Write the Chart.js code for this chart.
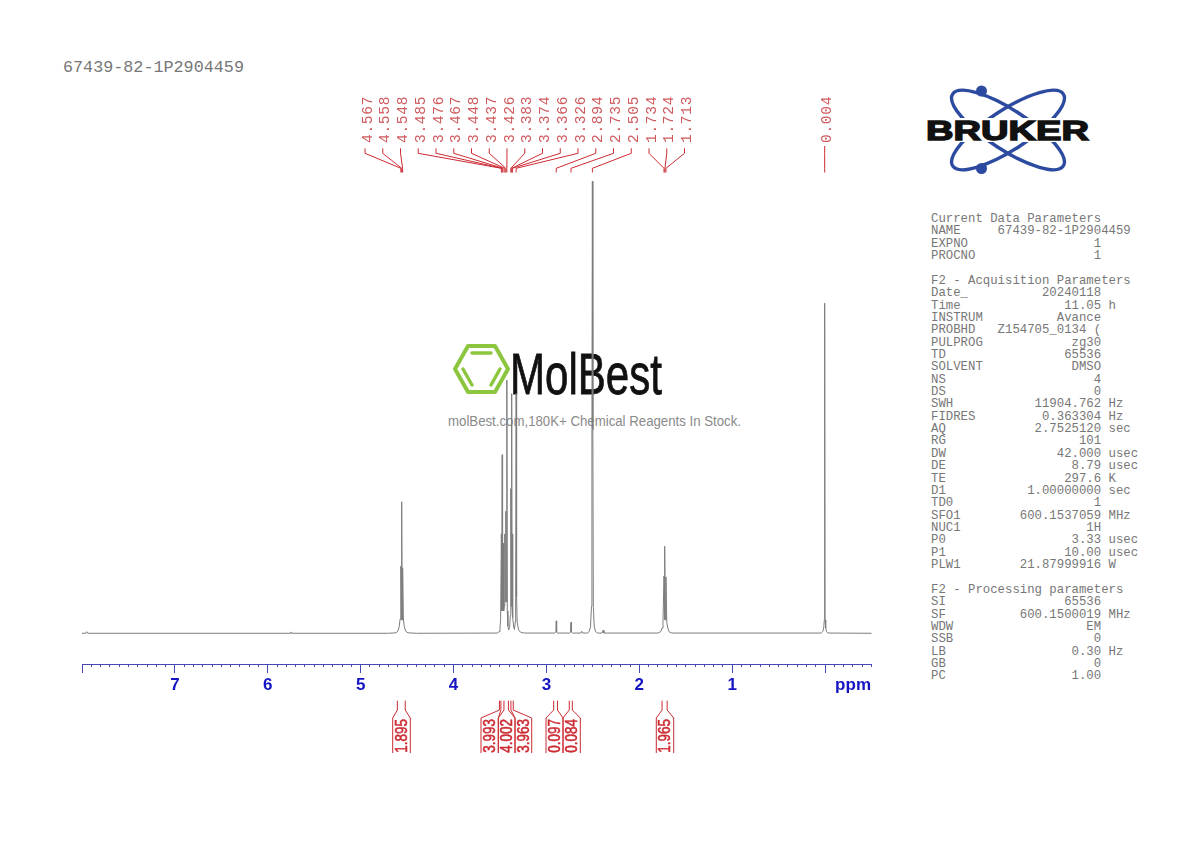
<!DOCTYPE html>
<html>
<head>
<meta charset="utf-8">
<script src="https://cdn.jsdelivr.net/npm/chart.js@4/dist/chart.umd.min.js"></script>
<style>
html,body{margin:0;padding:0;background:#fff;width:1190px;height:842px;overflow:hidden}
#stage{position:relative;width:1190px;height:842px}
#stage>*{position:absolute}
#chart{left:0;top:0;width:1190px;height:842px;z-index:3}
#sample{left:63px;top:58px;font:16.75px/20px "Liberation Mono",monospace;color:#777;white-space:pre}
#params{left:931px;top:213px;margin:0;font:12.33px/12.36px "Liberation Mono",monospace;color:#777;white-space:pre}
#logos{left:0;top:0;z-index:1}
</style>
</head>
<body>
<div id="stage">
<svg id="logos" width="1190" height="842" viewBox="0 0 1190 842">
  <g fill="none" stroke="#2c4a9f" stroke-width="3.4">
    <ellipse cx="1008" cy="130" rx="66" ry="20" transform="rotate(33 1008 130)"/>
    <ellipse cx="1008" cy="130" rx="66" ry="20" transform="rotate(-33 1008 130)"/>
  </g>
  <circle cx="981.5" cy="91" r="5.5" fill="#2c4a9f"/>
  <circle cx="981.5" cy="168.5" r="5.5" fill="#2c4a9f"/>
  <rect x="922" y="118" width="172" height="24" fill="#fff"/>
  <text x="926" y="139.5" font-family="Liberation Sans" font-weight="700" font-size="27" textLength="163" lengthAdjust="spacingAndGlyphs" fill="#111" stroke="#111" stroke-width="1.4">BRUKER</text>
  <g fill="none" stroke="#8cc63f" stroke-linecap="round" stroke-linejoin="round">
    <path d="M455 369 L468 346 L495 346 L508 369 L495 392 L468 392 Z" stroke-width="4"/>
    <path d="M472 353 L491 353 M463 369 L472 385 M500 369 L491 385" stroke-width="3.4"/>
  </g>
  <text x="510" y="394" font-family="Liberation Sans" font-size="58" textLength="152" lengthAdjust="spacingAndGlyphs" fill="#111" stroke="#111" stroke-width="0.8">MolBest</text>
  <text x="448" y="426" font-family="Liberation Sans" font-size="14" textLength="293" lengthAdjust="spacingAndGlyphs" fill="#8a8a8a">molBest.com,180K+ Chemical Reagents In Stock.</text>
</svg>
<div id="sample"></div>
<pre id="params"></pre>
<canvas id="chart" width="1190" height="842"></canvas>
</div>
<script>
const sampleName = "67439-82-1P2904459";

// Spectrum trace: chemical shift (ppm) and intensity (DMSO = 100)
const specPpm = [8.00,7.96,7.95,7.94,5.76,5.75,5.74,
 4.70,4.62,4.60,4.585,4.575,4.567,4.5625,4.558,4.553,4.548,4.54,4.53,4.515,4.49,4.40,
 3.53,3.51,3.50,3.493,3.485,3.481,3.476,3.472,3.467,3.46,3.454,3.448,3.443,3.437,3.432,3.426,3.421,3.415,3.405,3.395,3.389,3.383,3.379,3.374,3.37,3.366,3.36,3.352,3.344,3.336,3.331,3.326,3.321,3.315,3.30,3.28,3.24,
 2.91,2.898,2.894,2.89,2.878,2.75,2.739,2.735,2.731,2.72,2.63,2.62,2.61,
 2.56,2.54,2.525,2.515,2.51,2.505,2.50,2.495,2.485,2.47,2.45,2.40,2.39,2.38,
 1.80,1.77,1.755,1.745,1.734,1.729,1.724,1.719,1.713,1.704,1.693,1.68,1.65,
 0.04,0.025,0.015,0.008,0.004,0.0,-0.007,-0.017,-0.03,-0.5];
const specInt = [0.05,0.05,0.4,0.05,0.05,0.35,0.05,
 0.05,0.15,0.5,1.5,3.2,14.9,3,29.1,3,14.5,3.2,1.5,0.5,0.15,0.05,
 0.1,0.4,1.2,3,22,5,39.5,5,20,5,6,22,7,27,7,56,5,1.6,0.8,1.6,4,32,6,53,6,22,3.5,1.4,0.9,2.5,8,53,8,2.5,0.8,0.3,0.1,
 0.1,0.3,2.8,0.3,0.1,0.1,0.3,2.5,0.3,0.1,0.1,0.5,0.1,
 0.1,0.4,1.5,6,45,100,45,6,1.5,0.4,0.1,0.1,0.7,0.1,
 0.1,0.4,1.2,2.5,12.7,3,19.3,3,12.5,2.5,1.2,0.4,0.1,
 0.1,0.4,1.2,3,73,3,1.2,0.4,0.1,0.05];

// Peak picks printed above the spectrum
const peakPicks = [4.567,4.558,4.548,3.485,3.476,3.467,3.448,3.437,3.426,3.383,3.374,3.366,3.326,2.894,2.735,2.505,1.734,1.724,1.713,0.004];

// Integrals printed below the axis
const integralValues = ["1.895","3.993","4.002","3.963","0.097","0.084","1.965"];
const integralFrom   = [4.605,3.506,3.457,3.382,2.922,2.754,1.755];
const integralTo     = [4.520,3.490,3.409,3.357,2.881,2.721,1.700];

const axisMajorStep = 1, axisMinorStep = 0.1, axisMin = -0.5, axisMax = 8;
const axisUnit = "ppm";

// Acquisition / processing table
const paramKeys1 = ["EXPNO","PROCNO"];
const paramVals1 = ["1","1"];
const acqKeys = ["Date_","Time","INSTRUM","PROBHD","PULPROG","TD","SOLVENT","NS","DS","SWH","FIDRES","AQ","RG","DW","DE","TE","D1","TD0","SFO1","NUC1","P0","P1","PLW1"];
const acqVals = ["20240118","11.05","Avance","Z154705_0134 (","zg30","65536","DMSO","4","0","11904.762","0.363304","2.7525120","101","42.000","8.79","297.6","1.00000000","1","600.1537059","1H","3.33","10.00","21.87999916"];
const acqUnits = ["","h","","","","","","","","Hz","Hz","sec","","usec","usec","K","sec","","MHz","","usec","usec","W"];
const procKeys = ["SI","SF","WDW","SSB","LB","GB","PC"];
const procVals = ["65536","600.1500019","EM","0","0.30","0","1.00"];
const procUnits = ["","MHz","","","Hz","",""];

function row(k,v,u){ return k.padEnd(23-v.length)+v+(u?" "+u:""); }
document.getElementById("sample").textContent = sampleName;
document.getElementById("params").textContent = [
  "Current Data Parameters",
  "NAME".padEnd(9)+sampleName,
  ...paramKeys1.map((k,i)=>row(k,paramVals1[i],"")),
  "",
  "F2 - Acquisition Parameters",
  ...acqKeys.map((k,i)=>row(k,acqVals[i],acqUnits[i])),
  "",
  "F2 - Processing parameters",
  ...procKeys.map((k,i)=>row(k,procVals[i],procUnits[i]))
].join("\n");

const RED = "#cc2b33", LABEL_RED = "#cf5a5e", BLUE = "#1414c4", AXIS_BLUE = "#4848b4";

const annotations = {
  id: "annotations",
  afterDraw(chart){
    const {ctx, scales:{x}} = chart;
    ctx.save();
    // peak picks
    ctx.strokeStyle = RED; ctx.lineWidth = 1;
    peakPicks.forEach((p,i)=>{
      const px = x.getPixelForValue(p);
      const last = i === peakPicks.length-1;
      const cx = last ? px : 365 + i*17.75;
      ctx.beginPath();
      ctx.moveTo(cx, last ? 146 : 148.3);
      ctx.lineTo(cx, 153.3);
      ctx.lineTo(px, 168.3);
      ctx.lineTo(px, 172.5);
      ctx.stroke();
      ctx.save();
      ctx.translate(cx+2.8, 143);
      ctx.rotate(-Math.PI/2);
      ctx.font = '14.6px "Liberation Mono", monospace';
      ctx.letterSpacing = "0.65px";
      ctx.fillStyle = LABEL_RED;
      ctx.textAlign = "left"; ctx.textBaseline = "middle";
      ctx.fillText(p.toFixed(3), 0, 0);
      ctx.restore();
    });
    // integrals
    const boxes = [[392.7,410.3],[481,498.3],[498.3,515],[515,531.7],[546,563],[563,580.3],[656.3,673.7]];
    integralValues.forEach((t,i)=>{
      const a = x.getPixelForValue(integralFrom[i]), b = x.getPixelForValue(integralTo[i]);
      const [l,r] = boxes[i];
      ctx.strokeStyle = RED; ctx.lineWidth = 1;
      ctx.beginPath();
      ctx.moveTo(a,700.7); ctx.lineTo(a,710); ctx.lineTo(l,718); ctx.lineTo(l,753);
      ctx.moveTo(b,700.7); ctx.lineTo(b,710); ctx.lineTo(r,718); ctx.lineTo(r,753);
      ctx.stroke();
      ctx.save();
      ctx.translate((l+r)/2+0.8, 735.8);
      ctx.rotate(-Math.PI/2);
      ctx.scale(1, 1.22);
      ctx.font = '13.5px "Liberation Sans", Arial, sans-serif';
      ctx.fillStyle = RED; ctx.strokeStyle = RED; ctx.lineWidth = 0.45;
      ctx.textAlign = "center"; ctx.textBaseline = "middle";
      ctx.fillText(t, 0, 0); ctx.strokeText(t, 0, 0);
      ctx.restore();
    });
    // axis unit
    ctx.font = 'bold 17px "Liberation Sans", Arial, sans-serif';
    ctx.fillStyle = BLUE;
    ctx.textAlign = "right"; ctx.textBaseline = "middle";
    ctx.fillText(axisUnit, 871, 685.5);
    ctx.restore();
  }
};

new Chart(document.getElementById("chart"), {
  type: "line",
  data: { datasets: [{
    data: specPpm.map((p,i)=>({x:p,y:specInt[i]})),
    borderColor: "#7c7c7c", borderWidth: 1, pointRadius: 0, tension: 0, fill: false,
    xAxisID: "x", yAxisID: "y", clip: false
  }]},
  plugins: [annotations],
  options: {
    responsive: false, animation: false, devicePixelRatio: 1,
    layout: { padding: { left: 82, right: 318.5, top: 181, bottom: 0 } },
    plugins: { legend: {display:false}, tooltip: {enabled:false} },
    scales: {
      y: { type:"linear", display:false, min:-6.74, max:100 },
      x: {
        type:"linear", reverse:true, min:axisMin, max:axisMax, weight:-1, position:"bottom",
        afterFit(s){ s.height = 0; },
        border:{display:false},
        grid:{drawOnChartArea:false, drawTicks:true, tickLength:3, color:AXIS_BLUE, tickColor:AXIS_BLUE, lineWidth:1},
        ticks:{display:false, stepSize:axisMinorStep, autoSkip:false, includeBounds:true}
      },
      xMajor: {
        type:"linear", axis:"x", reverse:true, min:axisMin, max:axisMax, weight:0, position:"bottom",
        afterFit(s){ s.height = 178; },
        border:{display:true, color:AXIS_BLUE, width:1},
        grid:{drawOnChartArea:false, drawTicks:true, tickLength:9, color:AXIS_BLUE, tickColor:AXIS_BLUE, lineWidth:1},
        ticks:{
          stepSize:axisMajorStep, autoSkip:false, includeBounds:false, maxRotation:0, padding:2,
          color:BLUE, font:{family:'"Liberation Sans", Arial, sans-serif', size:17, weight:"bold"},
          callback:(v)=> (v>=1 && v<=7) ? String(v) : ""
        }
      }
    }
  }
});
</script>
</body>
</html>
